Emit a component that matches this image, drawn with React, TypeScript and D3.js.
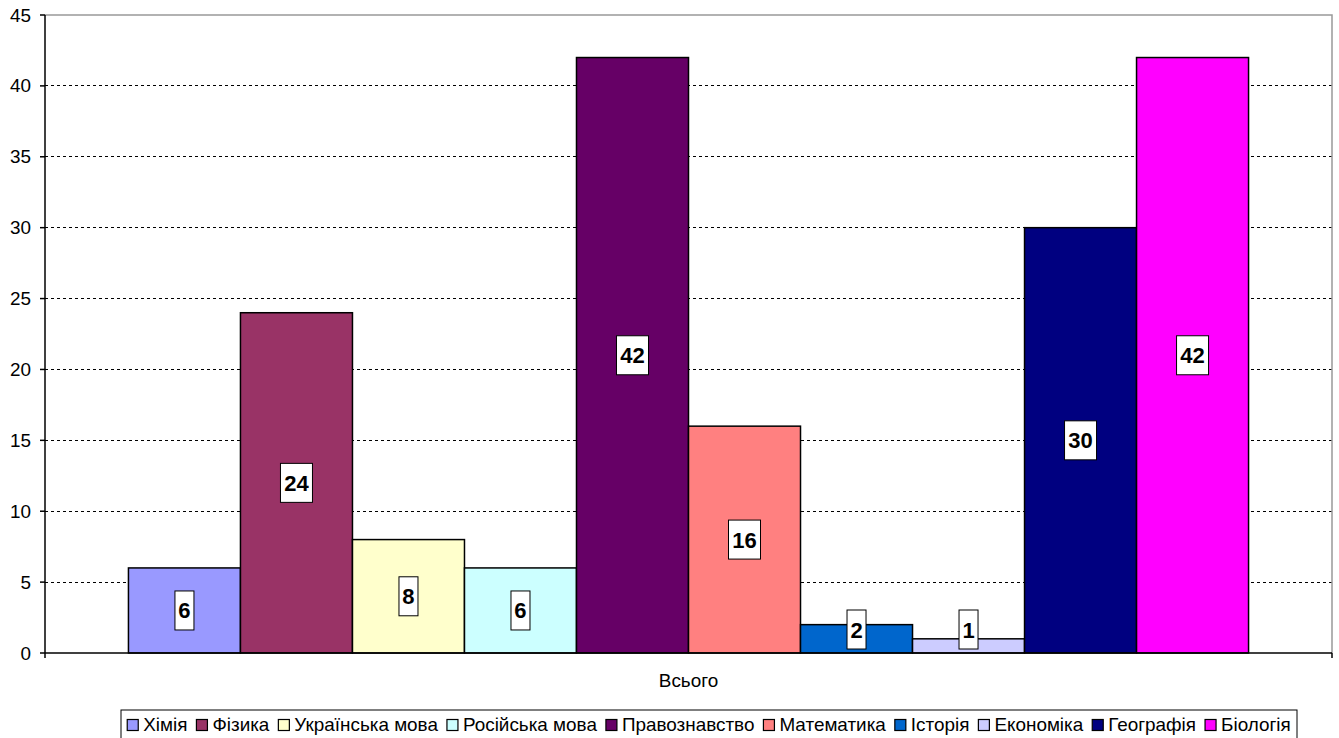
import { useRef, useEffect } from "react"
import * as d3 from "d3"

const subjects = [
  "Хімія",
  "Фізика",
  "Українська мова",
  "Російська мова",
  "Правознавство",
  "Математика",
  "Історія",
  "Економіка",
  "Географія",
  "Біологія",
]
const totals = [6, 24, 8, 6, 42, 16, 2, 1, 30, 42]
const colors = [
  "#9999FF",
  "#993366",
  "#FFFFCC",
  "#CCFFFF",
  "#660066",
  "#FF8080",
  "#0066CC",
  "#CCCCFF",
  "#000080",
  "#FF00FF",
]
const category = ["Всього"]
const yTicks = [0, 5, 10, 15, 20, 25, 30, 35, 40, 45]

export default function App() {
  const svgRef = useRef<SVGSVGElement>(null)

  function drawChart() {
    const width = 1339
    const height = 738
    const left = 45
    const right = 1332
    const top = 15
    const bottom = 653
    const sx = 1.05 // the original text is slightly stretched sideways
    const fontFamily = "'Liberation Sans', Arial, sans-serif"

    const svg = d3.select(svgRef.current).attr("width", width).attr("height", height)
    svg.selectAll("*").remove()

    const y = d3.scaleLinear().domain([0, 45]).range([bottom, top])
    const x0 = d3.scaleBand().domain(category).range([left, right]).paddingOuter(0.0745).paddingInner(0)
    const x1 = d3.scaleBand().domain(subjects).range([0, x0.bandwidth()])

    // grid
    svg
      .append("g")
      .selectAll("line")
      .data(yTicks.filter((t) => t > 0 && t < 45))
      .enter()
      .append("line")
      .attr("x1", left)
      .attr("x2", right)
      .attr("y1", (d) => y(d))
      .attr("y2", (d) => y(d))
      .attr("stroke", "#000")
      .attr("stroke-width", 1)
      .attr("stroke-dasharray", "3,3")
      .attr("shape-rendering", "crispEdges")

    // plot border (top / right)
    svg
      .append("path")
      .attr("d", `M${left},${y(45)}H${right}V${bottom}`)
      .attr("fill", "none")
      .attr("stroke", "#999")
      .attr("stroke-width", 1.5)

    // bars
    const gx = x0("Всього") as number
    svg
      .append("g")
      .selectAll("rect")
      .data(totals)
      .enter()
      .append("rect")
      .attr("x", (d, i) => gx + (x1(subjects[i]) as number))
      .attr("y", (d) => y(d))
      .attr("width", x1.bandwidth())
      .attr("height", (d) => y(0) - y(d))
      .attr("fill", (d, i) => colors[i])
      .attr("stroke", "#000")
      .attr("stroke-width", 1.5)

    // axes
    svg
      .append("line")
      .attr("x1", left)
      .attr("x2", left)
      .attr("y1", top)
      .attr("y2", bottom + 5)
      .attr("stroke", "#000")
      .attr("stroke-width", 1.5)
    svg
      .append("line")
      .attr("x1", left)
      .attr("x2", right)
      .attr("y1", bottom)
      .attr("y2", bottom)
      .attr("stroke", "#000")
      .attr("stroke-width", 1.5)
    svg
      .append("line")
      .attr("x1", right)
      .attr("x2", right)
      .attr("y1", bottom)
      .attr("y2", bottom + 5)
      .attr("stroke", "#000")
      .attr("stroke-width", 1.5)

    const yAxis = svg.append("g")
    yAxis
      .selectAll("line")
      .data(yTicks)
      .enter()
      .append("line")
      .attr("x1", left - 5)
      .attr("x2", left)
      .attr("y1", (d) => y(d))
      .attr("y2", (d) => y(d))
      .attr("stroke", "#000")
      .attr("stroke-width", 1.5)
    yAxis
      .selectAll("text")
      .data(yTicks)
      .enter()
      .append("text")
      .text((d) => d)
      .attr("transform", (d) => `translate(31,${y(d) + 6.5}) scale(${sx},1)`)
      .attr("text-anchor", "end")
      .style("font-size", "18px")
      .style("font-family", fontFamily)

    svg
      .append("text")
      .text("Всього")
      .attr("transform", `translate(${gx + x0.bandwidth() / 2},687) scale(${sx},1)`)
      .attr("text-anchor", "middle")
      .style("font-size", "18px")
      .style("font-family", fontFamily)

    // value labels
    const labels = svg.append("g")
    totals.forEach((v, i) => {
      const cx = gx + (x1(subjects[i]) as number) + x1.bandwidth() / 2
      const boxH = 39
      const boxW = String(v).length > 1 ? 32 : 19
      const cy = Math.min((y(v) + y(0)) / 2, y(0) - 4 - boxH / 2)
      labels
        .append("rect")
        .attr("x", cx - boxW / 2)
        .attr("y", cy - boxH / 2)
        .attr("width", boxW)
        .attr("height", boxH)
        .attr("fill", "#fff")
        .attr("stroke", "#000")
        .attr("stroke-width", 1)
      labels
        .append("text")
        .text(v)
        .attr("x", cx)
        .attr("y", cy + 8)
        .attr("text-anchor", "middle")
        .style("font-size", "22px")
        .style("font-weight", "bold")
        .style("font-family", fontFamily)
    })

    // legend
    const legendLeft = 121
    const legendRight = 1297
    const legend = svg.append("g")
    legend
      .append("rect")
      .attr("x", legendLeft)
      .attr("y", 710)
      .attr("width", legendRight - legendLeft)
      .attr("height", 40)
      .attr("fill", "#fff")
      .attr("stroke", "#000")
      .attr("stroke-width", 1)

    const items = legend
      .selectAll("g.item")
      .data(subjects)
      .enter()
      .append("g")
      .attr("class", "item")
    items
      .append("rect")
      .attr("width", 11)
      .attr("height", 11)
      .attr("y", 719.5)
      .attr("fill", (d, i) => colors[i])
      .attr("stroke", "#000")
      .attr("stroke-width", 1.2)
    items
      .append("text")
      .text((d) => d)
      .attr("transform", `translate(16,731) scale(${sx},1)`)
      .style("font-size", "18px")
      .style("font-family", fontFamily)

    const widths: number[] = []
    items.each(function () {
      const t = d3.select(this).select("text").node() as SVGTextElement
      widths.push(16 + t.getComputedTextLength() * sx)
    })
    const gap = 9
    const total = d3.sum(widths) + gap * (widths.length - 1)
    let cursor = (legendLeft + legendRight) / 2 - total / 2
    items.attr("transform", (d, i) => {
      const tx = cursor
      cursor += widths[i] + gap
      return `translate(${tx},0)`
    })
  }

  useEffect(() => {
    document.body.style.margin = "0"
    drawChart()
  }, [svgRef])

  return (
    <div>
      <svg ref={svgRef} style={{ display: "block" }}></svg>
    </div>
  )
}
